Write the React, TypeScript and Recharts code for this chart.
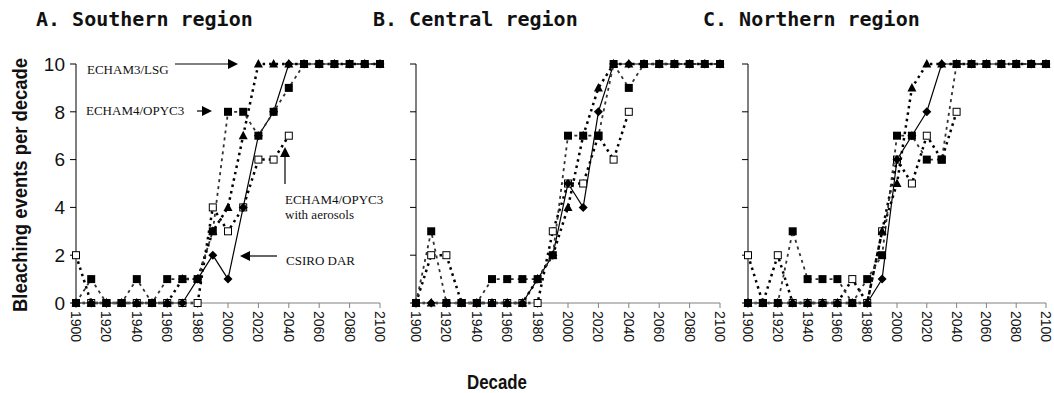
import React from 'react'
import { LineChart, Line, XAxis, YAxis } from 'recharts'

// decades on the x axis
const years = [1900, 1910, 1920, 1930, 1940, 1950, 1960, 1970, 1980, 1990, 2000, 2010, 2020, 2030, 2040, 2050, 2060, 2070, 2080, 2090, 2100]
const yearTicks = [1900, 1920, 1940, 1960, 1980, 2000, 2020, 2040, 2060, 2080, 2100]
const eventTicks = [0, 2, 4, 6, 8, 10]

// A. Southern region
const southernCsiro = [0, 0, 0, 0, 0, 0, 0, 0, 1, 2, 1, 4, 7, 8, 10, 10, 10, 10, 10, 10, 10]
const southernLsg = [0, 0, 0, 0, 0, 0, 0, 1, 1, 3, 4, 7, 10, 10, 10, 10, 10, 10, 10, 10, 10]
const southernOpyc = [0, 1, 0, 0, 1, 0, 1, 1, 1, 3, 8, 8, 7, 8, 9, 10, 10, 10, 10, 10, 10]
const southernAero = [2, 0, 0, 0, 0, 0, 0, 0, 0, 4, 3, 4, 6, 6, 7, null, null, null, null, null, null]

// B. Central region
const centralCsiro = [0, 0, 0, 0, 0, 0, 0, 0, 1, 2, 5, 4, 8, 10, 10, 10, 10, 10, 10, 10, 10]
const centralLsg = [0, 0, 0, 0, 0, 0, 0, 0, 1, 2, 4, 7, 9, 10, 10, 10, 10, 10, 10, 10, 10]
const centralOpyc = [0, 3, 0, 0, 0, 1, 1, 1, 1, 2, 7, 7, 7, 10, 9, 10, 10, 10, 10, 10, 10]
const centralAero = [0, 2, 2, 0, 0, 0, 0, 0, 0, 3, 5, 5, 7, 6, 8, null, null, null, null, null, null]

// C. Northern region
const northernCsiro = [0, 0, 0, 0, 0, 0, 0, 0, 0, 1, 6, 7, 8, 10, 10, 10, 10, 10, 10, 10, 10]
const northernLsg = [0, 0, 0, 0, 0, 0, 0, 0, 0, 3, 5, 9, 10, 10, 10, 10, 10, 10, 10, 10, 10]
const northernOpyc = [0, 0, 0, 3, 1, 1, 1, 0, 1, 2, 7, 7, 6, 6, 10, 10, 10, 10, 10, 10, 10]
const northernAero = [2, 0, 2, 0, 0, 0, 0, 1, 0, 3, 6, 5, 7, 6, 8, null, null, null, null, null, null]

const buildRows = (csiro: number[], lsg: number[], opyc: number[], aero: (number | null)[]) =>
   years.map((year, i) => ({ year, csiro: csiro[i], lsg: lsg[i], opyc: opyc[i], aero: aero[i] }))

const sansFont = "'Liberation Sans', Arial, sans-serif"
const narrowFont = "'Liberation Sans Narrow', 'Liberation Sans', Arial, sans-serif"

const hasPoint = (p: any) => p.cx != null && p.cy != null && p.value != null

const Diamond = (p: any) =>
   hasPoint(p) ? (
      <polygon key={`dm-${p.index}`} points={`${p.cx},${p.cy - 4.5} ${p.cx + 4.5},${p.cy} ${p.cx},${p.cy + 4.5} ${p.cx - 4.5},${p.cy}`} fill='#000' />
   ) : (
      <g key={`dm-${p.index}`} />
   )

const Triangle = (p: any) =>
   hasPoint(p) ? (
      <polygon key={`tr-${p.index}`} points={`${p.cx},${p.cy - 5} ${p.cx + 4.5},${p.cy + 3.5} ${p.cx - 4.5},${p.cy + 3.5}`} fill='#000' />
   ) : (
      <g key={`tr-${p.index}`} />
   )

const FilledSquare = (p: any) =>
   hasPoint(p) ? (
      <rect key={`fs-${p.index}`} x={p.cx - 4} y={p.cy - 4} width={8} height={8} fill='#000' />
   ) : (
      <g key={`fs-${p.index}`} />
   )

const OpenSquare = (p: any) =>
   hasPoint(p) ? (
      <rect key={`os-${p.index}`} x={p.cx - 3.5} y={p.cy - 3.5} width={7} height={7} fill='#fff' stroke='#000' strokeWidth={1} />
   ) : (
      <g key={`os-${p.index}`} />
   )

const YearTick = ({ x, y, payload }: any) => (
   <g transform={`translate(${x},${y})`}>
      <text transform='rotate(90)' x={1} y={0} dy='0.35em' textAnchor='start' fontSize={14} fontFamily={sansFont} fill='#111'>
         {payload.value}
      </text>
   </g>
)

interface PanelProps {
   left: number
   width: number
   rightMargin: number
   rows: any[]
   showValues: boolean
}

const RegionPanel: React.FC<PanelProps> = ({ left, width, rightMargin, rows, showValues }) => (
   <div style={{ position: 'absolute', left, top: 0 }}>
      <LineChart width={width} height={393} data={rows} margin={{ top: 64, right: rightMargin, left: 0, bottom: 40 }}>
         <XAxis
            dataKey='year'
            type='number'
            domain={[1900, 2100]}
            ticks={yearTicks}
            interval={0}
            height={50}
            tickSize={5}
            tickMargin={2}
            stroke='#808080'
            tick={<YearTick />}
         />
         <YAxis
            type='number'
            domain={[0, 10]}
            ticks={eventTicks}
            width={76}
            tickSize={6}
            tickMargin={5}
            stroke='#000'
            tick={{ fontSize: 19, fontFamily: sansFont, fill: '#111' }}
            tickFormatter={v => (showValues ? String(v) : '')}
         />
         <Line dataKey='aero' stroke='#000' strokeWidth={2.5} strokeDasharray='2.5 4' dot={OpenSquare} isAnimationActive={false} />
         <Line dataKey='lsg' stroke='#000' strokeWidth={2.5} strokeDasharray='2.5 4' dot={Triangle} isAnimationActive={false} />
         <Line dataKey='csiro' stroke='#000' strokeWidth={1.2} dot={Diamond} isAnimationActive={false} />
         <Line dataKey='opyc' stroke='#333' strokeWidth={1.8} strokeDasharray='3 4' dot={FilledSquare} isAnimationActive={false} />
      </LineChart>
   </div>
)

const Arrow = ({ x1, y1, x2, y2 }: { x1: number; y1: number; x2: number; y2: number }) => {
   // line from (x1,y1) ending in a solid head at (x2,y2)
   const len = Math.hypot(x2 - x1, y2 - y1)
   const ux = (x2 - x1) / len
   const uy = (y2 - y1) / len
   const bx = x2 - ux * 10
   const by = y2 - uy * 10
   return (
      <g>
         <line x1={x1} y1={y1} x2={bx} y2={by} stroke='#000' strokeWidth={1.2} />
         <polygon points={`${x2},${y2} ${bx - uy * 5},${by + ux * 5} ${bx + uy * 5},${by - ux * 5}`} fill='#000' />
      </g>
   )
}

const serif = "'Liberation Serif', 'Times New Roman', serif"
const titleFont = "'DejaVu Sans Mono', monospace"

const App = () => (
   <div style={{ position: 'absolute', left: 0, top: 0, width: 1054, height: 393, background: '#fff', overflow: 'hidden' }}>
      <RegionPanel left={0} width={390} rightMargin={10} rows={buildRows(southernCsiro, southernLsg, southernOpyc, southernAero)} showValues />
      <RegionPanel left={340} width={390} rightMargin={10} rows={buildRows(centralCsiro, centralLsg, centralOpyc, centralAero)} showValues={false} />
      <RegionPanel left={672} width={382} rightMargin={8} rows={buildRows(northernCsiro, northernLsg, northernOpyc, northernAero)} showValues={false} />

      <svg width={1054} height={393} style={{ position: 'absolute', left: 0, top: 0, pointerEvents: 'none' }}>
         <g fontFamily={titleFont} fontWeight='bold' fontSize={20} fill='#111'>
            <text x={36} y={26}>A. Southern region</text>
            <text x={373} y={26}>B. Central region</text>
            <text x={703} y={26}>C. Northern region</text>
         </g>

         <text
            transform='translate(27,185) rotate(-90)'
            textAnchor='middle'
            fontFamily={narrowFont}
            fontWeight='bold'
            fontSize={21}
            textLength={254}
            lengthAdjust='spacingAndGlyphs'
            fill='#111'
         >
            Bleaching events per decade
         </text>
         <text x={497} y={389} textAnchor='middle' fontFamily={narrowFont} fontWeight='bold' fontSize={20} textLength={60} lengthAdjust='spacingAndGlyphs' fill='#111'>
            Decade
         </text>

         <g fontFamily={serif} fontSize={13} fill='#111'>
            <text x={87} y={74}>ECHAM3/LSG</text>
            <text x={86} y={115}>ECHAM4/OPYC3</text>
            <text x={285} y={204}>ECHAM4/OPYC3</text>
            <text x={285} y={219}>with aerosols</text>
            <text x={286} y={265}>CSIRO DAR</text>
         </g>
         <Arrow x1={175} y1={64} x2={238} y2={64} />
         <Arrow x1={197} y1={111} x2={212} y2={111} />
         <Arrow x1={285} y1={184} x2={285} y2={147} />
         <Arrow x1={277} y1={256} x2={240} y2={256} />
      </svg>
   </div>
)

export default App
